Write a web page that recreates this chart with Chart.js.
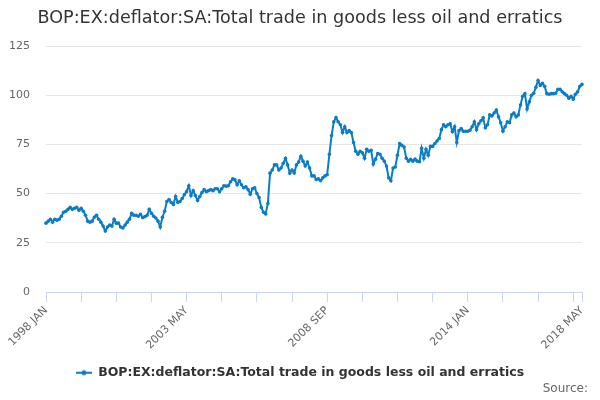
<!DOCTYPE html>
<html>
<head>
<meta charset="utf-8">
<title>BOP:EX:deflator:SA</title>
<script src="https://cdn.jsdelivr.net/npm/chart.js@4.4.0/dist/chart.umd.min.js"></script>
<style>
    html, body { margin: 0; padding: 0; background: #ffffff; }
    #wrap { width: 600px; height: 400px; }
</style>
</head>
<body>
<div id="wrap"><canvas id="chart" width="600" height="400"></canvas></div>
<script>
// Data (monthly, 1998 JAN - 2018 MAY)
const monthNames = ['JAN', 'FEB', 'MAR', 'APR', 'MAY', 'JUN', 'JUL', 'AUG', 'SEP', 'OCT', 'NOV', 'DEC'];
const startYear = 1998;
const endYear = 2018;
const endMonth = 5;

const seriesLabel = 'BOP:EX:deflator:SA:Total trade in goods less oil and erratics';

const deflatorValues = [
    35, 36, 37, 35.5, 37, 36.5, 37, 38.5, 40.5, 41, 42, 43,
    42, 42.5, 43, 41.5, 42.5, 41, 39, 36, 35.5, 36, 38, 39,
    37, 35.5, 33.5, 31, 33, 34, 33.5, 37, 35, 35, 33, 32.5,
    34, 35.5, 37, 40, 39, 39, 38.5, 39.5, 37.8, 38.3, 39, 42,
    40, 38.5, 37.6, 36, 33, 38, 41, 46, 47, 45.5, 44.5, 48.5,
    45.5, 46, 47.5, 49.5, 51, 54, 49, 51.5, 49, 46.5, 48.5, 50.5,
    52, 51, 51.5, 52, 51.5, 52.5, 52.5, 51, 52.5, 54, 53.8, 54,
    56, 57.5, 57, 54.5, 56.5, 54.5, 53, 53.5, 52, 49.7, 52.5, 53,
    50, 48, 43, 40.5, 39.7, 45, 60.4, 62, 64.6, 64.6, 62, 63,
    65.4, 67.9, 64.6, 60.4, 62, 60.5, 64.6, 66, 69, 66.5, 64, 66,
    63, 59, 59, 57.2, 57.5, 56.6, 58, 59, 59.6, 70, 79.5, 86.5,
    88.6, 86.5, 85, 81, 84, 81, 82, 81, 76, 71.5, 70, 71.5,
    70.7, 68, 72.5, 71.5, 72, 65, 67.5, 70.4, 70, 68, 66.5, 64,
    58, 56.5, 63, 63.5, 69.5, 75.5, 74.5, 73.7, 68, 66.5, 67.4, 66.5,
    67.5, 66.5, 66.2, 73, 68, 72.5, 69.5, 74, 74, 75.5, 76.7, 78,
    82.5, 85, 84, 85, 85.5, 81.5, 84, 76, 82, 83, 81.7, 81.7,
    81.7, 82.2, 84, 86.5, 82.5, 85.5, 87, 88.5, 83.5, 85, 90, 89.5,
    91, 92.5, 89, 86, 81.7, 84, 86.5, 86, 90, 91, 89, 90,
    95, 99.5, 100.8, 93, 96.6, 100, 101, 104, 107.5, 105, 106, 104.5,
    100.8, 100.5, 100.8, 100.8, 101, 103, 103, 101.7, 100.8, 100, 98.5, 99.5,
    98, 100.5, 101.7, 104.5, 105.5
];

const yTicks = [0, 25, 50, 75, 100, 125];

// Build "YYYY MON" category labels
const monthLabels = [];
for (let y = startYear; y <= endYear; y++) {
    for (let m = 0; m < 12; m++) {
        if (y === endYear && m >= endMonth) break;
        monthLabels.push(y + ' ' + monthNames[m]);
    }
}

const lineColor = '#0b7dc5';
const fontFamily = "'DejaVu Sans', 'Noto Sans', sans-serif";

// Legend symbol: short line with a dot
function legendSymbol() {
    const c = document.createElement('canvas');
    c.width = 16;
    c.height = 8;
    const g = c.getContext('2d');
    g.strokeStyle = lineColor;
    g.lineWidth = 2;
    g.beginPath();
    g.moveTo(0, 4);
    g.lineTo(16, 4);
    g.stroke();
    g.fillStyle = lineColor;
    g.beginPath();
    g.arc(8, 4, 2.5, 0, Math.PI * 2);
    g.fill();
    return c;
}

// "Source:" note in the bottom right corner
const sourceNote = {
    id: 'sourceNote',
    afterDraw(chart) {
        const ctx = chart.ctx;
        ctx.save();
        ctx.font = '12px ' + fontFamily;
        ctx.fillStyle = '#666666';
        ctx.textAlign = 'right';
        ctx.textBaseline = 'middle';
        ctx.fillText('Source:', 588, 389);
        ctx.restore();
    }
};

const lastIndex = monthLabels.length - 1;

new Chart(document.getElementById('chart'), {
    type: 'line',
    data: {
        labels: monthLabels,
        datasets: [{
            label: seriesLabel,
            data: deflatorValues,
            borderColor: lineColor,
            backgroundColor: lineColor,
            borderWidth: 2,
            pointRadius: 1.8,
            pointHoverRadius: 3,
            pointBorderWidth: 0,
            tension: 0,
            fill: false
        }]
    },
    options: {
        responsive: false,
        animation: false,
        layout: {
            padding: { left: 0, right: 0, top: 0, bottom: 11 }
        },
        plugins: {
            title: {
                display: true,
                text: seriesLabel,
                color: '#333333',
                font: { family: fontFamily, size: 17.6, weight: 'normal', lineHeight: 1.2 },
                padding: { top: 8, bottom: 16.9 }
            },
            legend: {
                display: true,
                position: 'bottom',
                labels: {
                    color: '#333333',
                    font: { family: fontFamily, size: 12.5, weight: 'bold' },
                    usePointStyle: true,
                    pointStyle: legendSymbol(),
                    pointStyleWidth: 16,
                    padding: 10
                }
            },
            tooltip: { enabled: false }
        },
        scales: {
            x: {
                type: 'category',
                offset: false,
                afterFit(scale) { scale.height = 64.5; },
                grid: {
                    display: true,
                    drawOnChartArea: false,
                    drawTicks: true,
                    tickLength: 10,
                    color: '#ccd6eb'
                },
                border: { display: true, color: '#ccd6eb' },
                ticks: {
                    autoSkip: false,
                    minRotation: 45,
                    maxRotation: 45,
                    padding: 2,
                    color: '#666666',
                    font: { family: fontFamily, size: 11 },
                    callback(value, index) {
                        if (index % 64 === 0 || index === lastIndex) return monthLabels[index];
                        if (index % 16 === 0) return '';
                        return null;
                    }
                }
            },
            y: {
                min: 0,
                max: 125,
                afterFit(scale) { scale.width = 46; },
                afterBuildTicks(scale) {
                    scale.ticks = yTicks.map(v => ({ value: v }));
                },
                grid: {
                    color: '#e6e6e6',
                    drawTicks: false
                },
                border: { display: false },
                ticks: {
                    padding: 16,
                    color: '#666666',
                    font: { family: fontFamily, size: 11 }
                }
            },
            // empty right-hand gutter so the plot ends where the reference does
            gutter: {
                type: 'linear',
                position: 'right',
                display: true,
                afterFit(scale) { scale.width = 18; },
                grid: { display: false, drawTicks: false },
                border: { display: false },
                ticks: { display: false }
            }
        }
    },
    plugins: [sourceNote]
});
</script>
</body>
</html>
